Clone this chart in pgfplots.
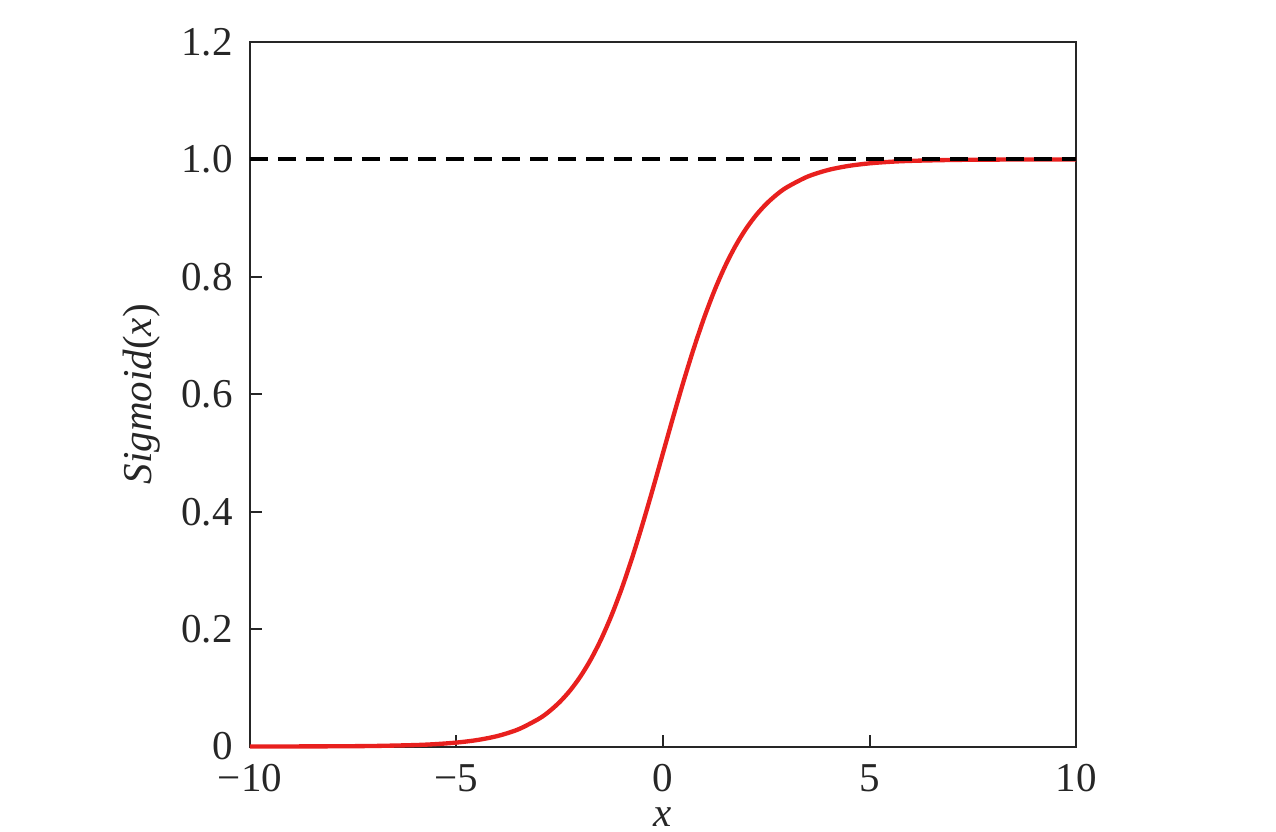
\documentclass[border=0pt]{standalone}
\usepackage{fontspec}
\setmainfont{Liberation Serif}
\usepackage{pgfplots}
\pgfplotsset{compat=1.18}
\definecolor{sigred}{RGB}{232,32,30}
\definecolor{axgray}{RGB}{38,38,38}
\begin{document}
\fontsize{12.3}{14.5}\selectfont
\begin{tikzpicture}
\useasboundingbox (-75pt,-25.35pt) rectangle (307.8pt,223.95pt);
\begin{axis}[
  at={(0pt,0pt)}, anchor=south west,
  scale only axis,
  width=247.8pt, height=211.35pt,
  xmin=-10, xmax=10, ymin=0, ymax=1.2,
  xtick={-10,-5,0,5,10},
  xticklabels={−10,−5,0,5,10},
  ytick={0,0.2,0.4,0.6,0.8,1.0,1.2},
  yticklabels={0,0.2,0.4,0.6,0.8,1.0,1.2},
  tick align=inside,
  xtick pos=bottom, ytick pos=left,
  major tick length=3.5pt,
  tick style={axgray, line width=0.6pt},
  axis line style={axgray, line width=0.6pt},
  ticklabel style={font=\fontsize{12.3}{14.5}\selectfont, text=axgray, inner sep=0pt},
  xticklabel style={yshift=-5.2pt},
  yticklabel style={xshift=-5pt},
  xlabel={\textit{x}},
  ylabel={\textit{Sigmoid}(\textit{x})},
  xlabel style={at={(axis description cs:0.5,-0.1005)}, anchor=center, inner sep=0pt, font=\fontsize{12.3}{14.5}\selectfont, text=axgray},
  ylabel style={at={(axis description cs:-0.1308,0.5)}, anchor=center, font=\fontsize{12.3}{14.5}\selectfont, text=axgray},
  clip=false,
]
\addplot[sigred, line width=1.3pt, smooth] coordinates {
(-10,0.0000454) (-9,0.0001234) (-8,0.000335) (-7,0.000911) (-6,0.002473)
(-5.5,0.004070) (-5,0.006693) (-4.5,0.010987) (-4,0.017986) (-3.5,0.029312)
(-3,0.047426) (-2.75,0.060086) (-2.5,0.075858) (-2.25,0.095349) (-2,0.119203)
(-1.75,0.148047) (-1.5,0.182426) (-1.25,0.222700) (-1,0.268941) (-0.75,0.320821)
(-0.5,0.377541) (-0.25,0.437823) (0,0.5) (0.25,0.562177) (0.5,0.622459)
(0.75,0.679179) (1,0.731059) (1.25,0.777300) (1.5,0.817574) (1.75,0.851953)
(2,0.880797) (2.25,0.904651) (2.5,0.924142) (2.75,0.939914) (3,0.952574)
(3.5,0.970688) (4,0.982014) (4.5,0.989013) (5,0.993307) (5.5,0.995930)
(6,0.997527) (7,0.999089) (8,0.999665) (9,0.999877) (10,0.999955)
};
\addplot[black, line width=1.2pt, dash pattern=on 5.4pt off 3pt] coordinates {(-10,1) (10,1)};
\end{axis}
\end{tikzpicture}
\end{document}
